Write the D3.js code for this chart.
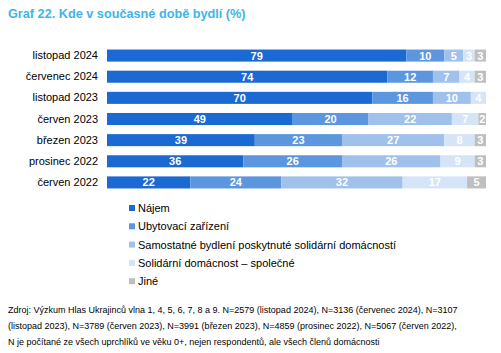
<!DOCTYPE html>
<html><head><meta charset="utf-8">
<script src="https://cdn.jsdelivr.net/npm/d3@7"></script>
<style>body{margin:0;background:#fff}svg{display:block}text{font-family:"Liberation Sans",Arial,sans-serif}</style>
</head><body><svg id="c" width="501" height="353"></svg>
<script>
const categories = ["listopad 2024","červenec 2024","listopad 2023","červen 2023","březen 2023","prosinec 2022","červen 2022"];
const seriesNames = ["Nájem","Ubytovací zařízení","Samostatné bydlení poskytnuté solidární domácností","Solidární domácnost – společné","Jiné"];
const najem =      [79,74,70,49,39,36,22];
const ubytovaci =  [10,12,16,20,23,26,24];
const samostatne = [5,7,10,22,27,26,32];
const solidarni =  [3,4,4,7,8,9,17];
const jine =       [3,3,0,2,3,3,5];
const colors = ["#1b69d3","#5b96df","#a0c1eb","#d5e4f6","#bfbfbf"];
const series = [najem,ubytovaci,samostatne,solidarni,jine];

const svg = d3.select("#c");
svg.append("text").attr("x",8).attr("y",18).attr("font-size",12.7).attr("font-weight","bold")
  .attr("fill","#3fb4ea").text("Graf 22. Kde v současné době bydlí (%)");

const x = d3.scaleLinear().domain([0,100]).range([107,486]);
const y = d3.scaleBand().domain(categories).range([45,193]).paddingInner(0.43).paddingOuter(0.215);

const rows = categories.map((c,i)=>{const o={cat:c};seriesNames.forEach((s,j)=>o[s]=series[j][i]);return o;});
const stacked = d3.stack().keys(seriesNames)(rows);

stacked.forEach((layer,j)=>{
  const g = svg.append("g");
  g.selectAll("rect").data(layer).join("rect")
    .attr("x",d=>x(d[0])).attr("width",d=>x(d[1])-x(d[0]))
    .attr("y",d=>y(d.data.cat)).attr("height",y.bandwidth())
    .attr("fill",colors[j]);
  g.selectAll("text").data(layer.filter(d=>d[1]-d[0]>0)).join("text")
    .attr("x",d=>(x(d[0])+x(d[1]))/2).attr("y",d=>y(d.data.cat)+y.bandwidth()/2+4)
    .attr("text-anchor","middle").attr("font-size",11).attr("font-weight","bold").attr("fill","#fff")
    .text(d=>d[1]-d[0]);
});

const yAxis = d3.axisLeft(y).tickSize(0).tickPadding(9);
const ga = svg.append("g").attr("transform","translate(107,0)").call(yAxis);
ga.select(".domain").remove();
ga.selectAll("text").attr("font-size",11).attr("fill","#000").style("font-family","'Liberation Sans',Arial,sans-serif");

const leg = svg.append("g");
seriesNames.forEach((s,j)=>{
  const yy = 208 + j*18.3;
  leg.append("rect").attr("x",129).attr("y",yy-3).attr("width",6).attr("height",6).attr("fill",colors[j]);
  leg.append("text").attr("x",138).attr("y",yy+4).attr("font-size",11).attr("fill","#000").text(s);
});

const notes = ["Zdroj: Výzkum Hlas Ukrajinců vlna 1, 4, 5, 6, 7, 8 a 9. N=2579 (listopad 2024), N=3136 (červenec 2024), N=3107",
"(listopad 2023), N=3789 (červen 2023), N=3991 (březen 2023), N=4859 (prosinec 2022), N=5067 (červen 2022),",
"N je počítané ze všech uprchlíků ve věku 0+, nejen respondentů, ale všech členů domácnosti"];
notes.forEach((t,i)=>svg.append("text").attr("x",8).attr("y",313+i*16).attr("font-size",9).attr("fill","#000").text(t));
</script></body></html>
